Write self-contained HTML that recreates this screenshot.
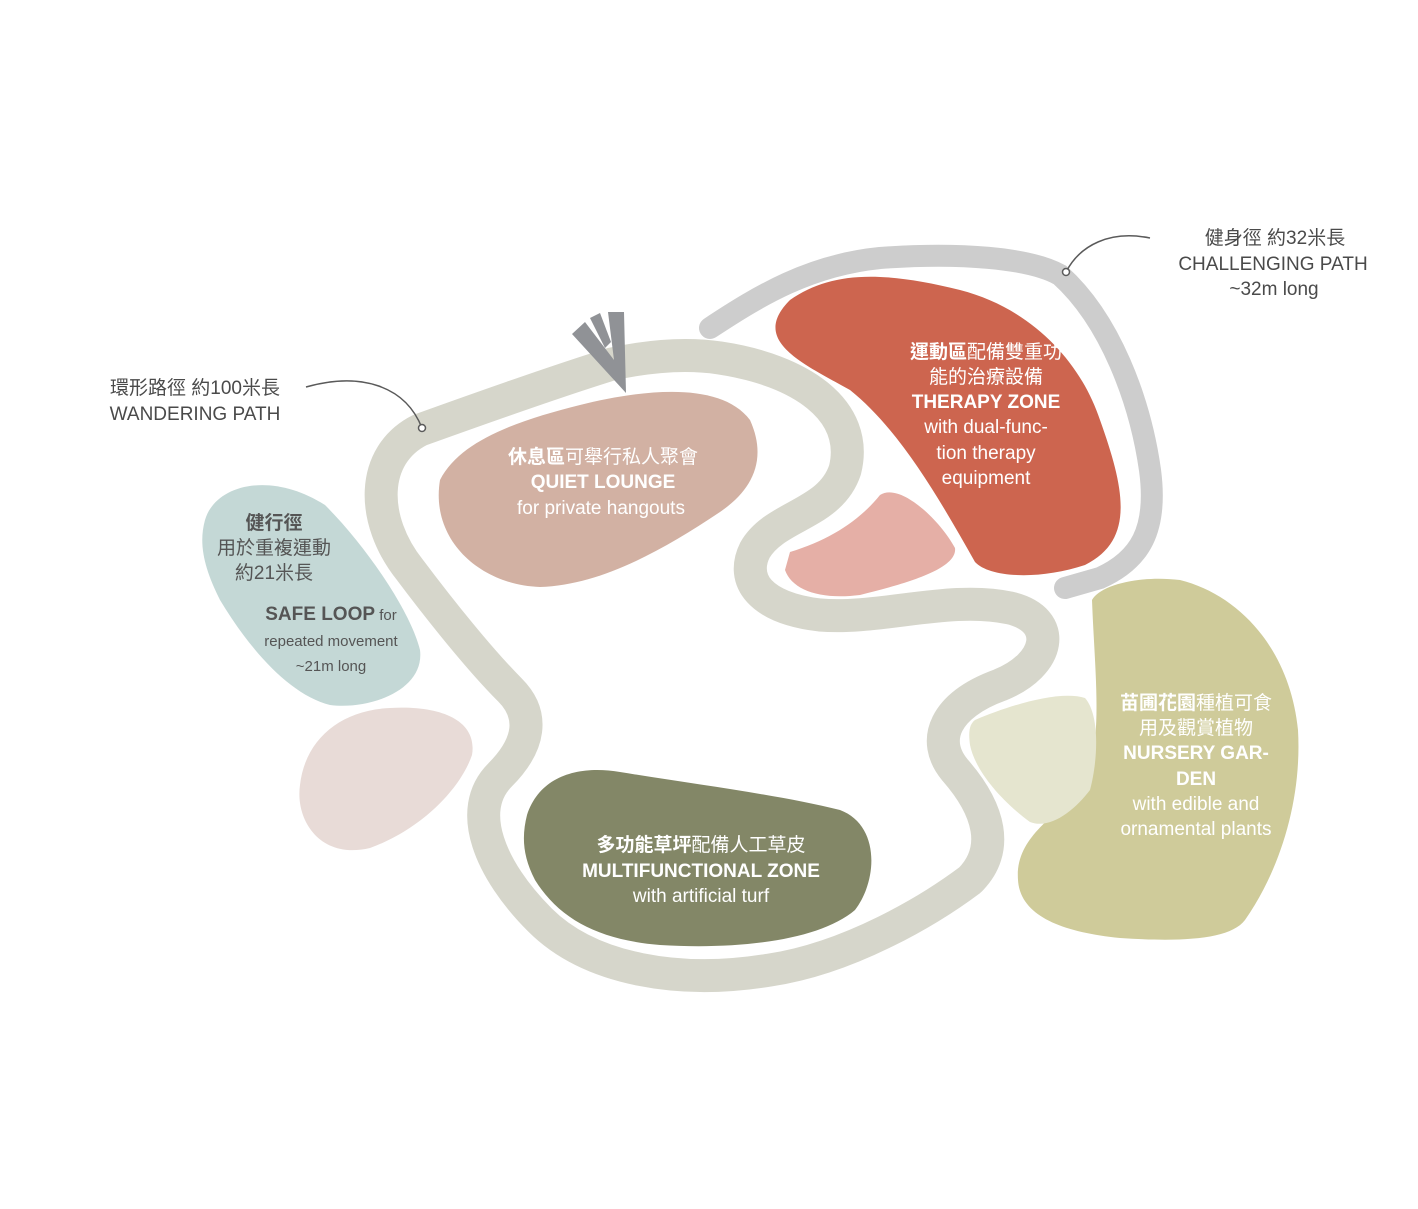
<!DOCTYPE html>
<html><head><meta charset="utf-8"><style>
html,body{margin:0;padding:0;background:#fff;}
svg{display:block;}
text{font-family:"Liberation Sans","Noto Sans CJK TC",sans-serif;}
</style></head><body>
<svg width="1418" height="1209" viewBox="0 0 1418 1209" xmlns="http://www.w3.org/2000/svg">
<path d="M790,300 C830,272 880,270 960,290 C1030,308 1080,360 1100,420 C1125,490 1135,540 1085,565 C1040,580 990,578 975,562 C940,500 900,430 850,390 C800,362 750,340 790,300 Z" fill="#cd654f"/>
<path d="M790,552 C830,540 860,520 880,495 C900,482 940,520 955,548 C958,570 900,585 860,595 C820,600 792,590 785,570 Z" fill="#e5afa6"/>
<path d="M440,480 C460,440 520,420 580,405 C640,390 720,380 750,420 C768,460 752,490 720,512 C660,552 600,585 540,587 C480,585 430,540 440,480 Z" fill="#d2b1a3"/>
<path d="M205,520 C215,485 270,470 325,505 C365,545 410,610 420,650 C425,690 370,710 330,705 C290,695 250,650 220,600 C205,570 198,545 205,520 Z" fill="#c4d8d6"/>
<path d="M300,785 C305,740 340,710 390,708 C440,705 478,720 472,755 C460,790 420,830 370,848 C320,860 295,820 300,785 Z" fill="#e8dbd7"/>
<path d="M527,815 C540,775 580,765 620,772 C700,785 780,795 840,810 C880,825 878,880 855,910 C820,940 740,950 660,945 C600,940 560,920 535,880 C522,855 522,835 527,815 Z" fill="#838767"/>
<path d="M1092,600 C1100,585 1140,575 1180,580 C1240,595 1290,650 1298,730 C1302,800 1280,870 1245,920 C1230,940 1180,942 1120,938 C1060,932 1020,915 1018,880 C1015,840 1050,820 1080,790 C1105,750 1095,680 1092,600 Z" fill="#cfcb9a"/>
<path d="M975,720 C1010,705 1060,690 1085,698 C1100,715 1098,760 1090,790 C1075,810 1050,830 1030,822 C1000,800 975,770 970,745 C968,730 970,724 975,720 Z" fill="#e5e5cf"/>
<path d="M612,364 C560,380 470,412 420,430 C370,455 370,520 410,570 C440,610 480,660 510,690 C535,715 530,745 500,775 C465,810 490,870 540,920 C590,970 680,985 770,970 C850,958 930,910 970,880 C1000,850 990,810 955,770 C930,740 945,705 1000,685 C1050,665 1060,620 1010,608 C950,595 880,620 820,615 C760,608 740,580 755,550 C775,515 830,515 845,470 C860,410 800,370 720,358 C680,352 640,358 612,364 Z" fill="none" stroke="#d6d6cb" stroke-width="33" stroke-linejoin="round"/>
<path d="M710,328 C760,295 810,265 880,258 C960,252 1030,258 1060,275 C1110,320 1140,400 1150,470 C1158,530 1140,560 1100,578 L1065,588" fill="none" stroke="#cdcdcd" stroke-width="22" stroke-linecap="round"/>
<polygon points="572,334 585,322 614,360 608,312 624,312 626,393" fill="#909296"/>
<polygon points="590,318 600,313 611,342 605,348" fill="#909296"/>
<path d="M306,387 C360,372 405,385 422,428" fill="none" stroke="#5a5a5a" stroke-width="1.5"/>
<circle cx="422" cy="428" r="3.5" fill="#fff" stroke="#5a5a5a" stroke-width="1.5"/>
<path d="M1150,238 C1110,230 1080,245 1066,272" fill="none" stroke="#5a5a5a" stroke-width="1.5"/>
<circle cx="1066" cy="272" r="3.5" fill="#fff" stroke="#5a5a5a" stroke-width="1.5"/>
<g fill="#4a4a4a" font-size="19" text-anchor="middle">
<text x="195" y="394">環形路徑 約100米長</text>
<text x="195" y="420">WANDERING PATH</text>
<text x="1275" y="244">健身徑 約32米長</text>
<text x="1273" y="270">CHALLENGING PATH</text>
<text x="1274" y="295">~32m long</text>
</g>
<g fill="#fff" font-size="19" text-anchor="middle">
<text x="986" y="358"><tspan font-weight="bold">運動區</tspan>配備雙重功</text>
<text x="986" y="383">能的治療設備</text>
<text x="986" y="408" font-weight="bold">THERAPY ZONE</text>
<text x="986" y="433">with dual-func-</text>
<text x="986" y="459">tion therapy</text>
<text x="986" y="484">equipment</text>
<text x="603" y="463"><tspan font-weight="bold">休息區</tspan>可舉行私人聚會</text>
<text x="603" y="488" font-weight="bold">QUIET LOUNGE</text>
<text x="601" y="514">for private hangouts</text>
<text x="701" y="851"><tspan font-weight="bold">多功能草坪</tspan>配備人工草皮</text>
<text x="701" y="877" font-weight="bold">MULTIFUNCTIONAL ZONE</text>
<text x="701" y="902">with artificial turf</text>
<text x="1196" y="709"><tspan font-weight="bold">苗圃花園</tspan>種植可食</text>
<text x="1196" y="734">用及觀賞植物</text>
<text x="1196" y="759" font-weight="bold">NURSERY GAR-</text>
<text x="1196" y="785" font-weight="bold">DEN</text>
<text x="1196" y="810">with edible and</text>
<text x="1196" y="835">ornamental plants</text>
</g>
<g fill="#555" text-anchor="middle">
<text x="274" y="529" font-size="19" font-weight="bold">健行徑</text>
<text x="274" y="554" font-size="19">用於重複運動</text>
<text x="274" y="579" font-size="19">約21米長</text>
<text x="331" y="620" font-size="19"><tspan font-weight="bold">SAFE LOOP</tspan><tspan font-size="15"> for</tspan></text>
<text x="331" y="646" font-size="15">repeated movement</text>
<text x="331" y="671" font-size="15">~21m long</text>
</g>
</svg>
</body></html>
